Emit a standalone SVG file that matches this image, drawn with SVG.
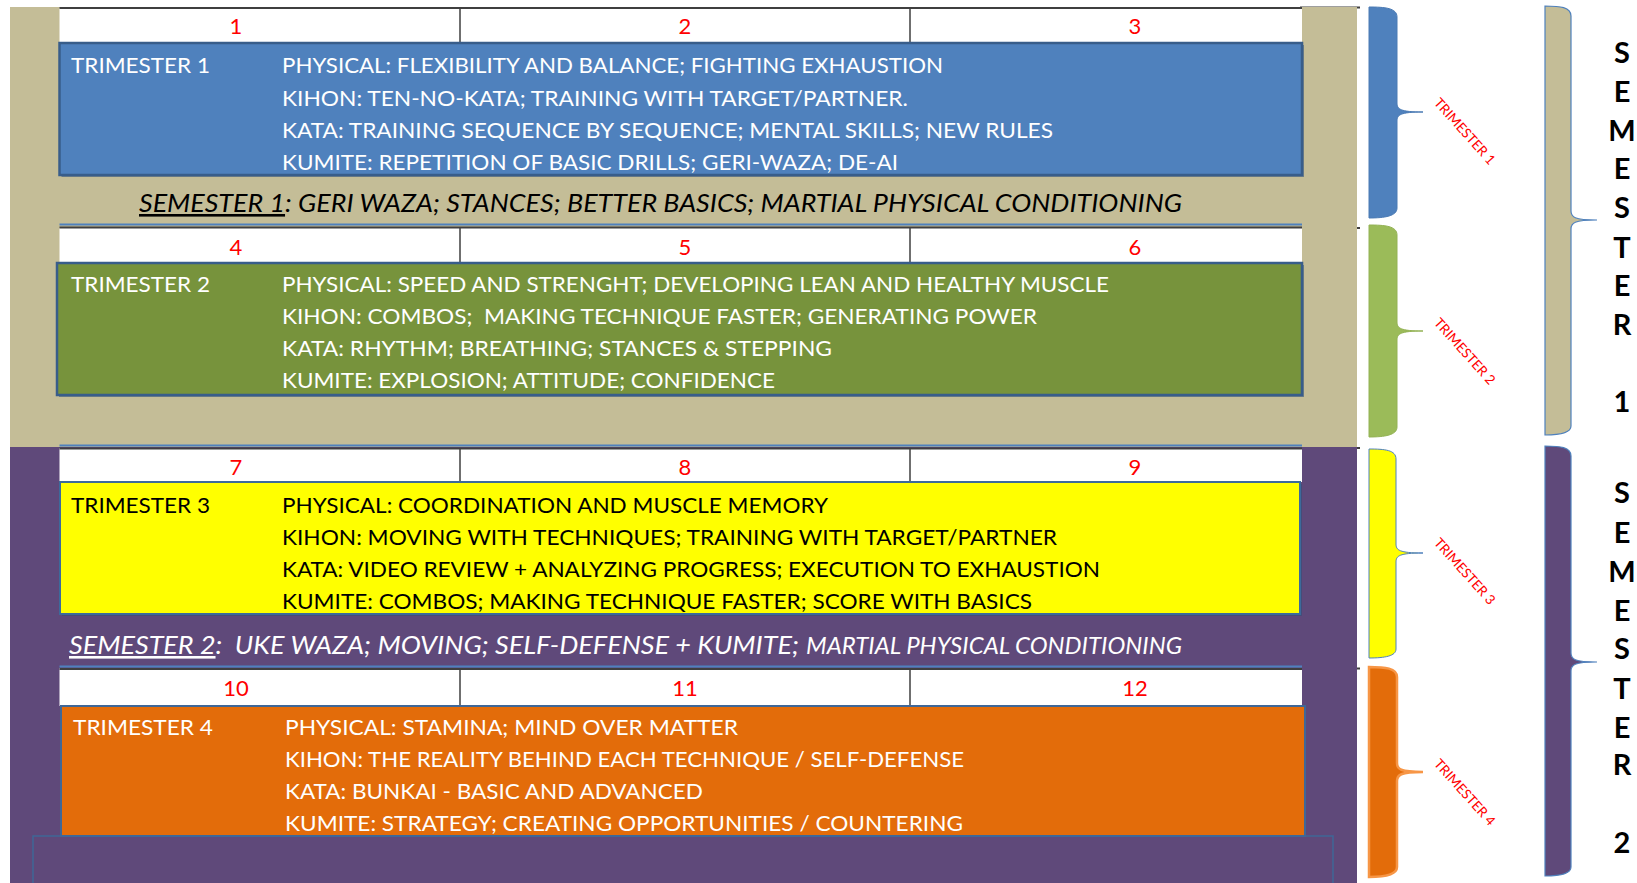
<svg xmlns="http://www.w3.org/2000/svg" width="1637" height="883" viewBox="0 0 1637 883">
  <style>
    .t { font-family: Lato, "Open Sans", "Liberation Sans", sans-serif; font-size: 22px; }
    .w { fill: #ffffff; }
    .k { fill: #000000; }
    .num { font-family: Lato, "Open Sans", "Liberation Sans", sans-serif; font-size: 22px; fill: #ff0000; text-anchor: middle; }
    .sem { font-family: Lato, "Open Sans", "Liberation Sans", sans-serif; font-size: 26px; font-style: italic; }
    .vert { font-family: Lato, "Open Sans", "Liberation Sans", sans-serif; font-size: 29px; font-weight: bold; fill: #000000; text-anchor: middle; }
    .tri { font-family: Lato, "Open Sans", "Liberation Sans", sans-serif; font-size: 13.5px; fill: #ff0000; text-anchor: middle; dominant-baseline: central; }
    .row { fill: #ffffff; }
    .div { stroke: #3f3f3f; stroke-width: 1.5; }
    .rule-b { stroke: #4f81bd; stroke-width: 2; }
    .rule-k { stroke: #3f3f3f; stroke-width: 2; }
    .box { stroke: #385d8a; stroke-width: 2.5; }
    .shadow { fill: #2f4f78; opacity: 0.55; }
  </style>

  <!-- semester backgrounds -->
  <g id="semester-backgrounds">
    <line x1="1300" y1="7.5" x2="1360" y2="7.5" class="rule-k"/>
    <line x1="1300" y1="228" x2="1360" y2="228" class="rule-k"/>
    <line x1="1300" y1="448" x2="1360" y2="448" class="rule-k"/>
    <line x1="1300" y1="668.5" x2="1360" y2="668.5" class="rule-k"/>
    <rect x="10" y="7" width="1347" height="440" fill="#c4bd97"/>
    <rect x="10" y="447" width="1347" height="436" fill="#5f497a"/>
    <rect x="33" y="836" width="1300" height="60" fill="none" stroke="#3f6797" stroke-width="1.5"/>
  </g>

  <!-- month header rows -->
  <g id="month-rows">
    <rect x="59.5" y="8" width="1242.5" height="35" class="row"/>
    <line x1="59.5" y1="8" x2="1302" y2="8" class="rule-k"/>
    <line x1="460" y1="8" x2="460" y2="43" class="div"/>
    <line x1="910" y1="8" x2="910" y2="43" class="div"/>
    <text x="236" y="34" class="num">1</text>
    <text x="685" y="34" class="num">2</text>
    <text x="1135" y="34" class="num">3</text>

    <rect x="59.5" y="228" width="1242.5" height="35" class="row"/>
    <line x1="59.5" y1="224.5" x2="1302" y2="224.5" class="rule-b"/>
    <line x1="59.5" y1="227.5" x2="1302" y2="227.5" class="rule-k"/>
    <line x1="460" y1="228" x2="460" y2="263" class="div"/>
    <line x1="910" y1="228" x2="910" y2="263" class="div"/>
    <text x="236" y="254.5" class="num">4</text>
    <text x="685" y="254.5" class="num">5</text>
    <text x="1135" y="254.5" class="num">6</text>

    <rect x="59.5" y="448" width="1242.5" height="34" class="row"/>
    <line x1="59.5" y1="445.5" x2="1302" y2="445.5" class="rule-b"/>
    <line x1="59.5" y1="448.5" x2="1302" y2="448.5" class="rule-k"/>
    <line x1="460" y1="448" x2="460" y2="482" class="div"/>
    <line x1="910" y1="448" x2="910" y2="482" class="div"/>
    <text x="236" y="475" class="num">7</text>
    <text x="685" y="475" class="num">8</text>
    <text x="1135" y="475" class="num">9</text>

    <rect x="59.5" y="668" width="1242.5" height="38" class="row"/>
    <line x1="59.5" y1="666.5" x2="1302" y2="666.5" class="rule-b"/>
    <line x1="59.5" y1="669" x2="1302" y2="669" class="rule-k"/>
    <line x1="460" y1="669" x2="460" y2="706" class="div"/>
    <line x1="910" y1="669" x2="910" y2="706" class="div"/>
    <text x="236" y="696" class="num">10</text>
    <text x="685" y="696" class="num">11</text>
    <text x="1135" y="696" class="num">12</text>
  </g>

  <!-- trimester 1 -->
  <g id="trimester-1">
    <rect x="61.5" y="45" width="1242.5" height="132" class="shadow"/>
    <rect x="59.5" y="43" width="1242.5" height="132" fill="#4f81bd" class="box"/>
    <text x="71" y="73" class="t w" textLength="139" lengthAdjust="spacingAndGlyphs">TRIMESTER 1</text>
    <text x="282" y="73" class="t w" textLength="661" lengthAdjust="spacingAndGlyphs">PHYSICAL: FLEXIBILITY AND BALANCE; FIGHTING EXHAUSTION</text>
    <text x="282" y="105.5" class="t w" textLength="626" lengthAdjust="spacingAndGlyphs">KIHON: TEN-NO-KATA; TRAINING WITH TARGET/PARTNER.</text>
    <text x="282" y="137.5" class="t w" textLength="771" lengthAdjust="spacingAndGlyphs">KATA: TRAINING SEQUENCE BY SEQUENCE; MENTAL SKILLS; NEW RULES</text>
    <text x="282" y="170" class="t w" textLength="616" lengthAdjust="spacingAndGlyphs">KUMITE: REPETITION OF BASIC DRILLS; GERI-WAZA; DE-AI</text>
  </g>

  <!-- semester 1 summary -->
  <g id="semester-1-summary">
    <text x="139" y="212" class="sem k" textLength="1043" lengthAdjust="spacingAndGlyphs"><tspan text-decoration="underline">SEMESTER 1</tspan>: GERI WAZA; STANCES; BETTER BASICS; MARTIAL PHYSICAL CONDITIONING</text>
  </g>

  <!-- trimester 2 -->
  <g id="trimester-2">
    <rect x="59" y="265" width="1245" height="132" class="shadow"/>
    <rect x="57" y="263" width="1245" height="132" fill="#77933c" class="box"/>
    <text x="71" y="291.5" class="t w" textLength="139" lengthAdjust="spacingAndGlyphs">TRIMESTER 2</text>
    <text x="282" y="291.5" class="t w" textLength="827" lengthAdjust="spacingAndGlyphs">PHYSICAL: SPEED AND STRENGHT; DEVELOPING LEAN AND HEALTHY MUSCLE</text>
    <text x="282" y="323.5" class="t w" xml:space="preserve" textLength="755" lengthAdjust="spacingAndGlyphs">KIHON: COMBOS;  MAKING TECHNIQUE FASTER; GENERATING POWER</text>
    <text x="282" y="355.5" class="t w" textLength="550" lengthAdjust="spacingAndGlyphs">KATA: RHYTHM; BREATHING; STANCES &amp; STEPPING</text>
    <text x="282" y="387.5" class="t w" textLength="493" lengthAdjust="spacingAndGlyphs">KUMITE: EXPLOSION; ATTITUDE; CONFIDENCE</text>
  </g>

  <!-- trimester 3 -->
  <g id="trimester-3">
    <rect x="62" y="484" width="1240" height="132" class="shadow"/>
    <rect x="60" y="482" width="1240" height="132" fill="#ffff00" stroke="#3c6a9b" stroke-width="2"/>
    <text x="71" y="512.5" class="t k" textLength="139" lengthAdjust="spacingAndGlyphs">TRIMESTER 3</text>
    <text x="282" y="512.5" class="t k" textLength="546" lengthAdjust="spacingAndGlyphs">PHYSICAL: COORDINATION AND MUSCLE MEMORY</text>
    <text x="282" y="544.5" class="t k" textLength="775" lengthAdjust="spacingAndGlyphs">KIHON: MOVING WITH TECHNIQUES; TRAINING WITH TARGET/PARTNER</text>
    <text x="282" y="577" class="t k" textLength="818" lengthAdjust="spacingAndGlyphs">KATA: VIDEO REVIEW + ANALYZING PROGRESS; EXECUTION TO EXHAUSTION</text>
    <text x="282" y="609" class="t k" textLength="750" lengthAdjust="spacingAndGlyphs">KUMITE: COMBOS; MAKING TECHNIQUE FASTER; SCORE WITH BASICS</text>
  </g>

  <!-- semester 2 summary -->
  <g id="semester-2-summary">
    <text x="69" y="654" class="sem w" xml:space="preserve" textLength="730" lengthAdjust="spacingAndGlyphs"><tspan text-decoration="underline">SEMESTER 2</tspan>:  UKE WAZA; MOVING; SELF-DEFENSE + KUMITE;</text>
    <text x="806" y="654" class="sem w" style="font-size:23.5px" textLength="376" lengthAdjust="spacingAndGlyphs">MARTIAL PHYSICAL CONDITIONING</text>
  </g>

  <!-- trimester 4 -->
  <g id="trimester-4">
    <rect x="61" y="706" width="1244" height="130" fill="#e36c0a" stroke="#3f6797" stroke-width="2"/>
    <text x="73" y="734.5" class="t w" textLength="140" lengthAdjust="spacingAndGlyphs">TRIMESTER 4</text>
    <text x="285" y="734.5" class="t w" textLength="453" lengthAdjust="spacingAndGlyphs">PHYSICAL: STAMINA; MIND OVER MATTER</text>
    <text x="285" y="766.5" class="t w" textLength="679" lengthAdjust="spacingAndGlyphs">KIHON: THE REALITY BEHIND EACH TECHNIQUE / SELF-DEFENSE</text>
    <text x="285" y="798.5" class="t w" textLength="418" lengthAdjust="spacingAndGlyphs">KATA: BUNKAI - BASIC AND ADVANCED</text>
    <text x="285" y="830.5" class="t w" textLength="678" lengthAdjust="spacingAndGlyphs">KUMITE: STRATEGY; CREATING OPPORTUNITIES / COUNTERING</text>
  </g>

  <!-- braces grouping months into trimesters and semesters -->
  <g id="braces">
    <path d="M1369,7 C1385,7 1397,8 1397,17 L1397,103 C1397,109 1400,112 1423,112 C1400,112 1397,115 1397,121 L1397,208 C1397,216 1385,218 1369,218 Z" fill="#4f81bd" stroke="#4a7ab4" stroke-width="1"/>
    <path d="M1369,225 C1385,225 1397,226 1397,235 L1397,322 C1397,328 1400,331 1423,331 C1400,331 1397,334 1397,340 L1397,427 C1397,435 1385,437 1369,437 Z" fill="#9bbb59" stroke="#93b254" stroke-width="1"/>
    <path d="M1369,449 C1385,449 1396,450 1396,459 L1396,544 C1396,550 1399,553 1423,553 C1399,553 1396,556 1396,562 L1396,649 C1396,656 1385,658 1369,658 Z" fill="#ffff00" stroke="#4f81bd" stroke-width="1"/>
    <path d="M1369,667 C1385,667 1397,668 1397,677 L1397,763 C1397,769 1400,772 1423,772 C1400,772 1397,775 1397,781 L1397,867 C1397,875 1385,877 1369,877 Z" fill="#e36c0a" stroke="#f79646" stroke-width="2.5"/>
    <path d="M1545,6 C1560,6 1571,7 1571,16 L1571,211 C1571,217 1574,220 1597,220 C1574,220 1571,223 1571,229 L1571,426 C1571,433 1560,435 1545,435 Z" fill="#c4bd97" stroke="#4f81bd" stroke-width="1.2"/>
    <path d="M1545,446 C1560,446 1571,447 1571,456 L1571,653 C1571,659 1574,662 1597,662 C1574,662 1571,665 1571,671 L1571,867 C1571,874 1560,876 1545,876 Z" fill="#5f497a" stroke="#4f81bd" stroke-width="1.2"/>
  </g>

  <!-- rotated trimester labels -->
  <g id="trimester-labels">
    <text class="tri" transform="translate(1465,131) rotate(48)" textLength="84" lengthAdjust="spacingAndGlyphs">TRIMESTER 1</text>
    <text class="tri" transform="translate(1465,351) rotate(48)" textLength="84" lengthAdjust="spacingAndGlyphs">TRIMESTER 2</text>
    <text class="tri" transform="translate(1465,571) rotate(48)" textLength="84" lengthAdjust="spacingAndGlyphs">TRIMESTER 3</text>
    <text class="tri" transform="translate(1465,792) rotate(48)" textLength="84" lengthAdjust="spacingAndGlyphs">TRIMESTER 4</text>
  </g>

  <!-- vertical semester titles -->
  <g id="semester-1-title">
    <text x="1622" y="62.5" class="vert">S</text>
    <text x="1622" y="102" class="vert">E</text>
    <text x="1622" y="140.5" class="vert">M</text>
    <text x="1622" y="179" class="vert">E</text>
    <text x="1622" y="218" class="vert">S</text>
    <text x="1622" y="257.5" class="vert">T</text>
    <text x="1622" y="296" class="vert">E</text>
    <text x="1622" y="334.5" class="vert">R</text>
    <text x="1622" y="411.5" class="vert">1</text>
  </g>
  <g id="semester-2-title">
    <text x="1622" y="503" class="vert">S</text>
    <text x="1622" y="542.5" class="vert">E</text>
    <text x="1622" y="582" class="vert">M</text>
    <text x="1622" y="621" class="vert">E</text>
    <text x="1622" y="659" class="vert">S</text>
    <text x="1622" y="699" class="vert">T</text>
    <text x="1622" y="738" class="vert">E</text>
    <text x="1622" y="775" class="vert">R</text>
    <text x="1622" y="852.5" class="vert">2</text>
  </g>
</svg>
